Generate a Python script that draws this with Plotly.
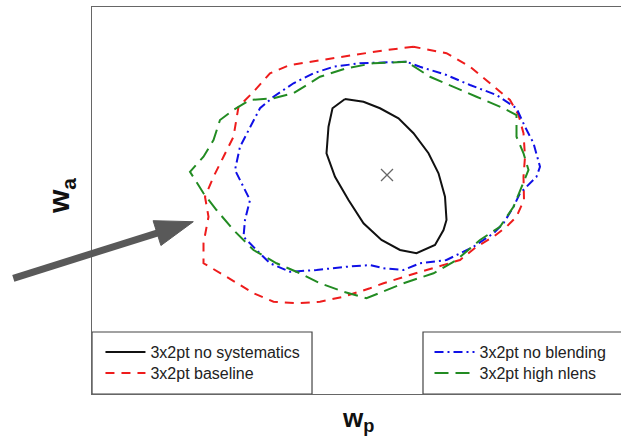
import plotly.graph_objects as go

# Confidence contours in the (w_p, w_a) plane
nosys_wp = [-1.084, -1.047, -1.014, -0.977, -0.947, -0.917, -0.897, -0.884, -0.881, -0.887,
            -0.904, -0.941, -0.974, -1.011, -1.047, -1.077, -1.104, -1.121, -1.117, -1.109, -1.084]
nosys_wa = [0.608, 0.586, 0.534, 0.454, 0.334, 0.174, 0.014, -0.174, -0.36, -0.44,
            -0.56, -0.626, -0.60, -0.52, -0.386, -0.20, -0.014, 0.174, 0.386, 0.534, 0.608]

baseline_wp = [-0.947, -1.001, -1.067, -1.134, -1.194, -1.234, -1.267, -1.297, -1.301, -1.307,
               -1.327, -1.347, -1.364, -1.357, -1.367, -1.367, -1.321, -1.267, -1.227, -1.181,
               -1.134, -1.087, -1.034, -1.007, -0.954, -0.901, -0.854, -0.821, -0.787, -0.761,
               -0.741, -0.726, -0.727, -0.724, -0.727, -0.737, -0.754, -0.794, -0.834, -0.881, -0.947]
baseline_wa = [1.026, 1.0, 0.96, 0.92, 0.88, 0.814, 0.666, 0.546, 0.44, 0.306,
               0.146, -0.014, -0.174, -0.334, -0.546, -0.706, -0.814, -0.946, -1.014, -1.026,
               -1.014, -0.974, -0.906, -0.866, -0.80, -0.734, -0.68, -0.574, -0.494, -0.414,
               -0.334, -0.20, -0.014, 0.146, 0.334, 0.48, 0.60, 0.734, 0.866, 0.974, 1.026]

noblend_wp = [-0.961, -1.001, -1.054, -1.107, -1.147, -1.187, -1.227, -1.254, -1.274, -1.294,
              -1.304, -1.274, -1.284, -1.287, -1.261, -1.234, -1.194, -1.141, -1.081, -1.034,
              -1.007, -0.967, -0.934, -0.881, -0.827, -0.787, -0.767, -0.747, -0.734, -0.721,
              -0.701, -0.694, -0.707, -0.724, -0.741, -0.781, -0.834, -0.881, -0.934, -0.961]
noblend_wa = [0.906, 0.902, 0.894, 0.866, 0.814, 0.734, 0.626, 0.534, 0.386, 0.226,
              0.04, -0.20, -0.36, -0.494, -0.60, -0.706, -0.774, -0.76, -0.734, -0.72,
              -0.746, -0.76, -0.706, -0.68, -0.574, -0.466, -0.386, -0.254, -0.146, -0.094,
              -0.014, 0.066, 0.254, 0.386, 0.534, 0.64, 0.72, 0.80, 0.866, 0.906]

highnlens_wp = [-0.961, -1.027, -1.081, -1.134, -1.187, -1.227, -1.274, -1.307, -1.334, -1.347,
                -1.367, -1.394, -1.367, -1.341, -1.307, -1.267, -1.221, -1.174, -1.134, -1.087,
                -1.041, -0.967, -0.907, -0.861, -0.814, -0.774, -0.747, -0.731, -0.717, -0.727,
                -0.741, -0.741, -0.767, -0.821, -0.874, -0.914, -0.961]
highnlens_wa = [0.906, 0.894, 0.854, 0.786, 0.654, 0.614, 0.60, 0.52, 0.44, 0.28,
                0.146, 0.026, -0.146, -0.28, -0.44, -0.60, -0.706, -0.786, -0.866, -0.934,
                -0.986, -0.866, -0.786, -0.68, -0.52, -0.414, -0.254, -0.094, 0.04, 0.174,
                0.306, 0.48, 0.534, 0.626, 0.72, 0.786, 0.906]

fiducial_wp = [-1.0]
fiducial_wa = [0.0]

labels = ["3x2pt no systematics", "3x2pt baseline", "3x2pt no blending", "3x2pt high nlens"]

fig = go.Figure()

fig.add_trace(go.Scatter(x=nosys_wp, y=nosys_wa, mode="lines", name=labels[0],
                         line=dict(color="#111111", width=2), legend="legend"))
fig.add_trace(go.Scatter(x=baseline_wp, y=baseline_wa, mode="lines", name=labels[1],
                         line=dict(color="#ee1c1c", width=2, dash="9px,7px"), legend="legend2"))
fig.add_trace(go.Scatter(x=noblend_wp, y=noblend_wa, mode="lines", name=labels[2],
                         line=dict(color="#1010e6", width=2, dash="9px,4px,2px,4px"), legend="legend3"))
fig.add_trace(go.Scatter(x=highnlens_wp, y=highnlens_wa, mode="lines", name=labels[3],
                         line=dict(color="#228b22", width=2, dash="14px,7px"), legend="legend4"))
fig.add_trace(go.Scatter(x=fiducial_wp, y=fiducial_wa, mode="markers", showlegend=False,
                         marker=dict(symbol="x-thin", size=12,
                                     line=dict(color="#666666", width=1.3))))

legend_font = dict(family="Liberation Sans, Arial, sans-serif", size=16, color="#222222")


def legend_at(x, y):
    return dict(x=x, y=y, xanchor="left", yanchor="middle", bgcolor="rgba(0,0,0,0)",
                borderwidth=0, font=legend_font, itemwidth=40)


fig.update_layout(
    width=621, height=439,
    margin=dict(l=92, r=0, t=7, b=45),
    paper_bgcolor="white", plot_bgcolor="white",
    xaxis=dict(range=[-1.59, -0.532], showticklabels=False, ticks="", showgrid=False,
               zeroline=False, showline=True, mirror=True, linecolor="#666666", linewidth=1.3),
    yaxis=dict(range=[-1.752, 1.344], showticklabels=False, ticks="", showgrid=False,
               zeroline=False, showline=True, mirror=False, linecolor="#666666", linewidth=1.3),
    legend=legend_at(0.016, 0.1085),
    legend2=legend_at(0.016, 0.0543),
    legend3=legend_at(0.638, 0.1085),
    legend4=legend_at(0.638, 0.0543),
    showlegend=True,
)

# Legend frames
fig.add_shape(type="rect", xref="paper", yref="paper", x0=0, x1=0.4159, y0=0, y1=0.1602,
              line=dict(color="#444444", width=1.2), fillcolor="white", layer="below")
fig.add_shape(type="rect", xref="paper", yref="paper", x0=0.6257, x1=1.05, y0=0, y1=0.1602,
              line=dict(color="#444444", width=1.2), fillcolor="white", layer="below")

# Pointer arrow toward the contour edge
fig.add_shape(type="line", xref="paper", yref="paper", x0=-0.1488, y0=0.2990, x1=0.1380, y1=0.4222,
              line=dict(color="#595959", width=7))
fig.add_shape(type="path", xref="paper", yref="paper",
              path="M 0.1915 0.4452 L 0.1155 0.4478 L 0.1303 0.3837 Z",
              fillcolor="#595959", line=dict(color="#595959", width=1))

# Axis labels
fig.add_annotation(text="<b>w<sub>a</sub></b>", xref="paper", yref="paper", x=-0.097, y=0.512,
                   textangle=-90, showarrow=False,
                   font=dict(family="Liberation Sans, Arial, sans-serif", size=30, color="#111111"))
fig.add_annotation(text="<b>w<sub>p</sub></b>", xref="paper", yref="paper", x=0.503, y=-0.113,
                   showarrow=False,
                   font=dict(family="Liberation Sans, Arial, sans-serif", size=26, color="#111111"))

fig.write_html("out.html")
